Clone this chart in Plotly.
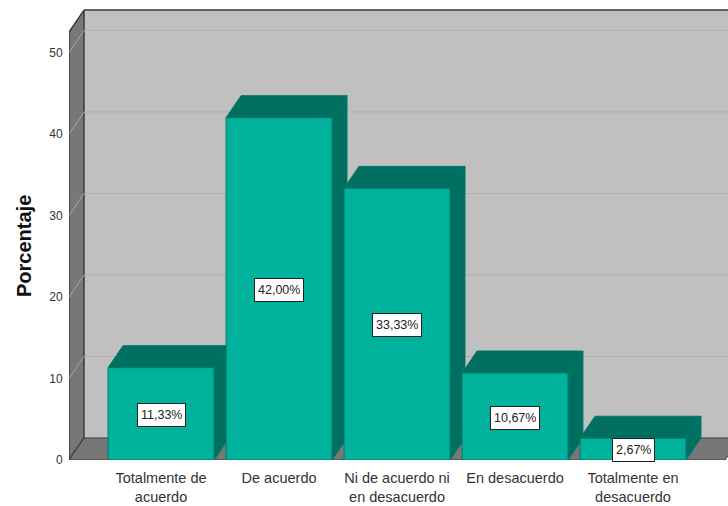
"""Porcentaje por nivel de acuerdo, barras con aspecto 3D al estilo SPSS."""

import plotly.graph_objects as go

categories = [
    "Totalmente de<br>acuerdo",
    "De acuerdo",
    "Ni de acuerdo ni<br>en desacuerdo",
    "En desacuerdo",
    "Totalmente en<br>desacuerdo",
]
percentages = [11.33, 42.00, 33.33, 10.67, 2.67]
bar_labels = ["11,33%", "42,00%", "33,33%", "10,67%", "2,67%"]
y_ticks = [0, 10, 20, 30, 40, 50]

FONT = "Liberation Sans"
FRONT = "#00b29c"
DARK = "#006f60"
EDGE = "#007a6a"
WALL = "#c0c0c0"
SIDE = "#777777"
LINE = "#3c3c3c"

# depth offset of the fake 3D box, in axis units
DX = 0.127
DY = 2.7
BAR_WIDTH = 0.898
X_LEFT, X_RIGHT = -0.78, 4.78
Y_TOP = 52.5
positions = list(range(len(categories)))


def polygon(xs, ys, fill, line=None, width=1):
    """Closed filled shape on the base axes."""
    return go.Scatter(
        x=xs + xs[:1],
        y=ys + ys[:1],
        mode="lines",
        fill="toself",
        fillcolor=fill,
        line=dict(color=line or fill, width=width),
        hoverinfo="skip",
        showlegend=False,
        cliponaxis=False,
    )


def segment(xs, ys, color, width=1):
    return go.Scatter(
        x=xs,
        y=ys,
        mode="lines",
        line=dict(color=color, width=width),
        hoverinfo="skip",
        showlegend=False,
        cliponaxis=False,
    )


fig = go.Figure()

# box: back wall, left wall, floor
fig.add_trace(
    polygon(
        [X_LEFT + DX, X_RIGHT + DX, X_RIGHT + DX, X_LEFT + DX],
        [DY, DY, Y_TOP + DY, Y_TOP + DY],
        WALL,
    )
)
fig.add_trace(
    polygon(
        [X_LEFT, X_LEFT + DX, X_LEFT + DX, X_LEFT],
        [0, DY, Y_TOP + DY, Y_TOP],
        SIDE,
        LINE,
        1.5,
    )
)
fig.add_trace(
    polygon(
        [X_LEFT, X_RIGHT, X_RIGHT + DX, X_LEFT + DX],
        [0, 0, DY, DY],
        SIDE,
        LINE,
        1,
    )
)
fig.add_trace(
    segment([X_LEFT + DX, X_RIGHT + DX], [Y_TOP + DY, Y_TOP + DY], LINE, 1.5)
)

# grid lines run along the back wall and down the left wall
for tick in y_ticks[1:]:
    fig.add_trace(segment([X_LEFT + DX, X_RIGHT + DX], [tick + DY, tick + DY], "#b0b0b0"))
    fig.add_trace(segment([X_LEFT, X_LEFT + DX], [tick, tick + DY], "#a8a8a8"))

# tops and sides, left to right so that later bars sit in front
half = BAR_WIDTH / 2
for pos, value in zip(positions, percentages):
    left, right = pos - half, pos + half
    fig.add_trace(
        polygon(
            [right, right + DX, right + DX, right],
            [0, DY, value + DY, value],
            DARK,
            EDGE,
        )
    )
    fig.add_trace(
        polygon(
            [left, right, right + DX, left + DX],
            [value, value, value + DY, value + DY],
            DARK,
            EDGE,
        )
    )

# front faces go on an overlaid pair of axes to stay above the depth faces
fig.add_trace(
    go.Bar(
        x=positions,
        y=percentages,
        width=BAR_WIDTH,
        marker=dict(color=FRONT, line=dict(color=EDGE, width=1)),
        hoverinfo="skip",
        showlegend=False,
        cliponaxis=False,
        xaxis="x2",
        yaxis="y2",
    )
)

for pos, value, label in zip(positions, percentages, bar_labels):
    fig.add_annotation(
        x=pos,
        y=value / 2,
        xref="x",
        yref="y",
        text=label,
        showarrow=False,
        yshift=-1,
        height=16,
        font=dict(family=FONT, size=12.5, color="#222222"),
        bgcolor="white",
        bordercolor="#222222",
        borderwidth=1,
        borderpad=3,
    )

fig.add_annotation(
    x=(24 - 69) / (728 - 69),
    y=(460 - 246) / 460,
    xref="paper",
    yref="paper",
    xanchor="center",
    yanchor="middle",
    text="<b>Porcentaje</b>",
    textangle=-90,
    showarrow=False,
    font=dict(family=FONT, size=20, color="#111111"),
)

x_range = [X_LEFT, 4.805]
y_range = [0, 56.44]

fig.update_layout(
    width=728,
    height=506,
    margin=dict(l=69, r=0, t=0, b=46),
    paper_bgcolor="white",
    plot_bgcolor="white",
    barmode="overlay",
    xaxis=dict(
        range=x_range,
        tickmode="array",
        tickvals=positions,
        ticktext=categories,
        showgrid=False,
        zeroline=False,
        showline=False,
        ticks="outside",
        ticklen=5,
        tickcolor="rgba(0,0,0,0)",
        tickfont=dict(family=FONT, size=14.5, color="#333333"),
    ),
    yaxis=dict(
        range=y_range,
        tickmode="array",
        tickvals=y_ticks,
        showgrid=False,
        zeroline=False,
        showline=False,
        ticks="outside",
        ticklen=3,
        tickcolor="rgba(0,0,0,0)",
        tickfont=dict(family=FONT, size=12, color="#333333"),
    ),
    xaxis2=dict(overlaying="x", matches="x", visible=False),
    yaxis2=dict(overlaying="y", matches="y", visible=False),
)

# the default body margin would push the chart off the 728x506 window
fig.write_html(
    "out.html",
    config=dict(displayModeBar=False),
    post_script="document.body.style.margin = '0';",
)
